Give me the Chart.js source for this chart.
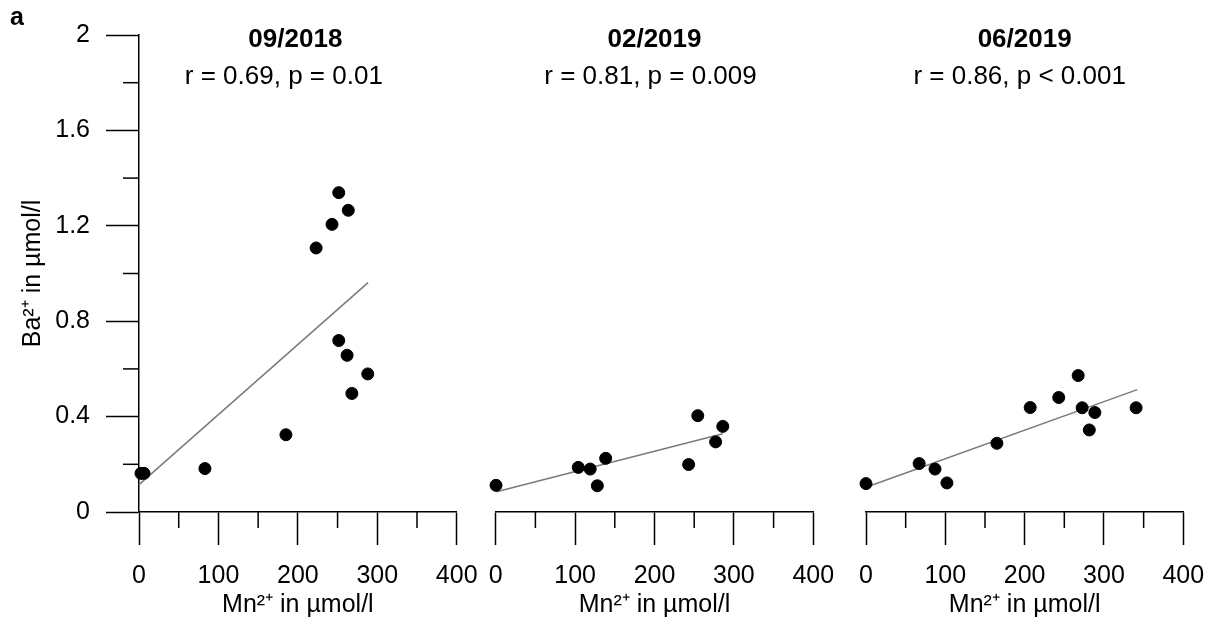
<!DOCTYPE html>
<html>
<head>
<meta charset="utf-8">
<script src="https://cdn.jsdelivr.net/npm/chart.js@4"></script>
<style>
  body { margin: 0; background: #fff; overflow: hidden; }
  #wrap { position: relative; width: 1217px; height: 626px; overflow: hidden; }
  canvas { position: absolute; top: 0; }
</style>
</head>
<body>
<div id="wrap">
  <canvas id="panel1" width="497" height="626" style="left:0px;width:497px;height:626px"></canvas>
  <canvas id="panel2" width="388" height="626" style="left:466px;width:388px;height:626px"></canvas>
  <canvas id="panel3" width="388" height="626" style="left:836px;width:388px;height:626px"></canvas>
</div>
<script>
// Etiquetas de cada panel
const titulos = ['09/2018', '02/2019', '06/2019'];
const estadisticas = ['r = 0.69, p = 0.01', 'r = 0.81, p = 0.009', 'r = 0.86, p < 0.001'];

// Mn2+ (x) y Ba2+ (y) en µmol/l
const mn2018_09 = [2.5, 6.3, 83, 185, 223, 243, 251.5, 263.5, 251.5, 262, 268, 288];
const ba2018_09 = [0.162, 0.162, 0.182, 0.324, 1.107, 1.206, 1.339, 1.265, 0.719, 0.657, 0.497, 0.579];
const mn2019_02 = [0.4, 104, 119, 128, 138.5, 243, 254.5, 277, 286];
const ba2019_02 = [0.112, 0.187, 0.180, 0.110, 0.225, 0.199, 0.404, 0.294, 0.359];
const mn2019_06 = [0, 67, 87, 102, 165, 207, 243, 267.5, 272.5, 281.5, 288.5, 340.5];
const ba2019_06 = [0.119, 0.203, 0.180, 0.122, 0.288, 0.438, 0.480, 0.572, 0.437, 0.344, 0.417, 0.437];

// Rectas de regresión (extremos)
const ajusteMn = [[0, 288.4], [1, 286], [1, 342]];
const ajusteBa = [[0.115, 0.962], [0.085, 0.328], [0.105, 0.513]];

// Marcas de los ejes
const xMenores = [50, 150, 250, 350];
const yMenores = [0.2, 0.6, 1.0, 1.4, 1.8];

Chart.defaults.font.family = '"Liberation Sans", Arial, sans-serif';
Chart.defaults.color = '#000';

const fuente = { size: 25 };

// Dibuja marcas menores, títulos y la letra del panel
const extras = {
    id: 'extras',
    afterDraw(chart, args, opts) {
        const ctx = chart.ctx;
        const x = chart.scales.x;
        const y = chart.scales.y;
        ctx.save();
        ctx.strokeStyle = '#000';
        ctx.lineWidth = 1.5;
        xMenores.forEach(v => {
            const px = x.getPixelForValue(v);
            ctx.beginPath();
            ctx.moveTo(px, x.top);
            ctx.lineTo(px, x.top + 16);
            ctx.stroke();
        });
        if (opts.ejeY) {
            yMenores.forEach(v => {
                const py = y.getPixelForValue(v);
                ctx.beginPath();
                ctx.moveTo(y.right, py);
                ctx.lineTo(y.right - 16, py);
                ctx.stroke();
            });
            ctx.font = 'bold 25px "Liberation Sans", Arial';
            ctx.fillStyle = '#000';
            ctx.textAlign = 'left';
            ctx.fillText('a', 10, 25);
        }
        const cx = (chart.chartArea.left + chart.chartArea.right) / 2;
        ctx.fillStyle = '#000';
        ctx.textAlign = 'center';
        ctx.font = 'bold 26px "Liberation Sans", Arial';
        ctx.fillText(opts.titulo, cx + opts.desp[0], 47);
        ctx.font = '26px "Liberation Sans", Arial';
        ctx.fillText(opts.stats, cx + opts.desp[1], 84);
        ctx.restore();
    }
};

function crearPanel(id, i, mn, ba, ejeY, relleno, desp) {
    const puntos = mn.map((v, k) => ({ x: v, y: ba[k] }));
    const recta = ajusteMn[i].map((v, k) => ({ x: v, y: ajusteBa[i][k] }));
    const ctx = document.getElementById(id).getContext('2d');
    new Chart(ctx, {
        type: 'scatter',
        data: {
            datasets: [{
                data: puntos,
                backgroundColor: '#000',
                borderColor: '#000',
                pointRadius: 6,
                pointHoverRadius: 6,
                clip: false,
                order: 0
            }, {
                type: 'line',
                data: recta,
                borderColor: '#7a7a7a',
                borderWidth: 1.5,
                pointRadius: 0,
                fill: false,
                clip: false,
                order: 1
            }]
        },
        options: {
            responsive: false,
            animation: false,
            devicePixelRatio: 1,
            layout: { padding: { top: 35, bottom: 0, left: relleno[0], right: relleno[1] } },
            plugins: {
                legend: { display: false },
                tooltip: { enabled: false },
                extras: { titulo: titulos[i], stats: estadisticas[i], ejeY: ejeY, desp: desp }
            },
            scales: {
                x: {
                    type: 'linear',
                    min: 0,
                    max: 400,
                    afterFit: s => { s.height = 114; },
                    border: { display: true, color: '#000', width: 1.5 },
                    grid: { drawOnChartArea: false, tickLength: 33, tickColor: '#000', tickWidth: 1.5 },
                    ticks: { stepSize: 100, padding: 16, font: fuente, maxRotation: 0 },
                    title: { display: true, text: 'Mn²⁺ in µmol/l', font: fuente, padding: { top: 0, bottom: 6 } }
                },
                y: {
                    type: 'linear',
                    display: ejeY,
                    min: 0,
                    max: 2,
                    afterFit: s => { s.width = ejeY ? 139 : 0; },
                    border: { display: true, color: '#000', width: 1.5 },
                    grid: { drawOnChartArea: false, tickLength: 33, tickColor: '#000', tickWidth: 1.5 },
                    ticks: {
                        stepSize: 0.4,
                        padding: 16,
                        font: fuente,
                        callback: v => String(Math.round(v * 10) / 10)
                    },
                    title: { display: true, text: 'Ba²⁺ in µmol/l', font: fuente, padding: { top: 18, bottom: 0 } }
                }
            }
        },
        plugins: [extras]
    });
}

crearPanel('panel1', 0, mn2018_09, ba2018_09, true, [0, 40.3], [-2.5, -14]);
crearPanel('panel2', 1, mn2019_02, ba2019_02, false, [29.7, 40.7], [0, -4]);
crearPanel('panel3', 2, mn2019_06, ba2019_06, false, [30, 40.7], [0, -5]);
</script>
</body>
</html>
